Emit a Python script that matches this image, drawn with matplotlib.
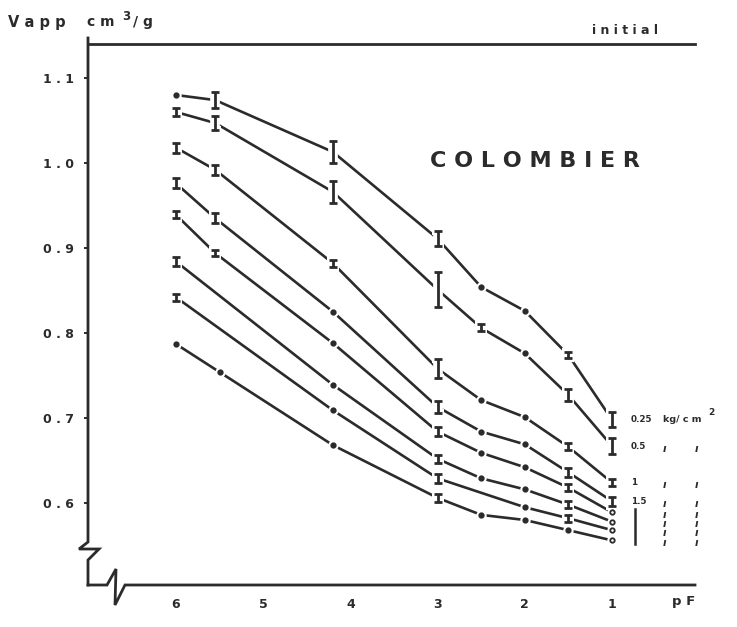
import matplotlib
matplotlib.use("Agg")
import matplotlib.pyplot as plt
from matplotlib.transforms import Affine2D, blended_transform_factory

# pF values and apparent volume Vapp (cm3/g) for each load, with error half-ranges
pf_025 = [6, 5.55, 4.2, 3, 2.5, 2, 1.5, 1]
v_025 = [1.080, 1.074, 1.013, 0.911, 0.854, 0.826, 0.774, 0.698]
e_025 = [0, 0.009, 0.0125, 0.009, 0, 0, 0.004, 0.009]

pf_05 = [6, 5.55, 4.2, 3, 2.5, 2, 1.5, 1]
v_05 = [1.060, 1.047, 0.966, 0.851, 0.806, 0.776, 0.727, 0.667]
e_05 = [0.005, 0.008, 0.013, 0.021, 0.004, 0, 0.007, 0.009]

pf_1 = [6, 5.55, 4.2, 3, 2.5, 2, 1.5, 1]
v_1 = [1.018, 0.992, 0.882, 0.758, 0.721, 0.701, 0.666, 0.624]
e_1 = [0.006, 0.006, 0.004, 0.011, 0, 0, 0.004, 0.004]

pf_15 = [6, 5.55, 4.2, 3, 2.5, 2, 1.5, 1]
v_15 = [0.976, 0.935, 0.825, 0.713, 0.684, 0.669, 0.636, 0.602]
e_15 = [0.006, 0.006, 0, 0.007, 0, 0, 0.005, 0.005]

pf_5 = [6, 5.55, 4.2, 3, 2.5, 2, 1.5, 1]
v_5 = [0.939, 0.894, 0.788, 0.684, 0.659, 0.642, 0.618, 0.589]
e_5 = [0.004, 0.004, 0, 0.005, 0, 0, 0.004, 0]

pf_6 = [6, 4.2, 3, 2.5, 2, 1.5, 1]
v_6 = [0.884, 0.739, 0.652, 0.629, 0.616, 0.598, 0.578]
e_6 = [0.005, 0, 0.005, 0, 0, 0.004, 0]

pf_7 = [6, 4.2, 3, 2, 1.5, 1]
v_7 = [0.842, 0.709, 0.629, 0.595, 0.582, 0.568]
e_7 = [0.004, 0, 0.005, 0, 0.004, 0]

pf_8 = [6, 5.5, 4.2, 3, 2.5, 2, 1.5, 1]
v_8 = [0.787, 0.754, 0.668, 0.606, 0.586, 0.580, 0.568, 0.556]
e_8 = [0, 0, 0, 0.005, 0, 0, 0, 0]

curves = [(pf_025, v_025, e_025), (pf_05, v_05, e_05), (pf_1, v_1, e_1),
          (pf_15, v_15, e_15), (pf_5, v_5, e_5), (pf_6, v_6, e_6),
          (pf_7, v_7, e_7), (pf_8, v_8, e_8)]
load_labels = ["0.25", "0.5", "1", "1.5"]

y_ticks = [0.6, 0.7, 0.8, 0.9, 1.0, 1.1]
y_ticklabels = ["0 . 6", "0 . 7", "0 . 8", "0 . 9", "1 . 0", "1 . 1"]
x_ticks = [6, 5, 4, 3, 2, 1]
x_ticklabels = ["6", "5", "4", "3", "2", "1"]

INK = "#2b2b2b"
FONT = "DejaVu Sans"

W, H = 737, 627
X0, X1, YT, YB = 88, 695, 44, 585

fig = plt.figure(figsize=(W / 100, H / 100), dpi=100)
fig.patch.set_facecolor("white")
ax = fig.add_axes([X0 / W, 1 - YB / H, (X1 - X0) / W, (YB - YT) / H])
ax.set_xlim(7.009, 0.048)
ax.set_ylim(0.5035, 1.14)
ax.set_facecolor("none")
for s in ax.spines.values():
    s.set_visible(False)

# pixel coordinates measured from the top-left corner of the figure
px = Affine2D().scale(1 / W, -1 / H).translate(0, 1) + fig.transFigure
px_y_data = blended_transform_factory(px, ax.transData)

# axis frame with broken corners
frame_kw = dict(color=INK, lw=2.0, transform=px, clip_on=False,
                solid_joinstyle="miter", zorder=5)
ax.plot([X0, X1], [YT, YT], **frame_kw)
ax.plot([X0, X0, 79, 99, X0, X0], [38, 542, 549, 549, 560, YB], **frame_kw)
ax.plot([X0, 107, 116, 115, 125, X1], [YB, YB, 569, 605, YB, YB], **frame_kw)

# ticks
ax.set_yticks(y_ticks)
ax.set_yticklabels(y_ticklabels, fontsize=9, fontweight="bold",
                   family=FONT, color=INK)
ax.tick_params(axis="y", direction="out", length=3, width=1.4,
               color=INK, pad=7)
ax.set_xticks(x_ticks)
ax.set_xticklabels(x_ticklabels, fontsize=9, fontweight="bold",
                   family=FONT, color=INK)
ax.tick_params(axis="x", length=0, pad=9)

# curves
for i, (pf, v, e) in enumerate(curves):
    ax.plot(pf, v, color=INK, lw=1.9, zorder=2, solid_capstyle="butt")
    for x, y, err in zip(pf, v, e):
        if err > 0:
            ax.errorbar([x], [y], yerr=[err], fmt="none", ecolor="white",
                        elinewidth=7, capsize=4.5, capthick=6, zorder=3)
            ax.errorbar([x], [y], yerr=[err], fmt="none", ecolor=INK,
                        elinewidth=2.0, capsize=2.6, capthick=2.0, zorder=4)
        else:
            ax.plot([x], [y], "o", ms=7.5, color="white", mec="none", zorder=3)
            open_end = (x == 1 and i >= 4)
            ax.plot([x], [y], "o", ms=3.2, color=INK,
                    mfc="white" if open_end else INK, mew=1.3, zorder=4)

# load labels at the end of each curve
lab_kw = dict(fontweight="bold", family=FONT, color=INK,
              va="center", transform=px_y_data, clip_on=False)
for lab, (pf, v, e) in zip(load_labels, curves):
    ax.text(631, v[-1], lab, ha="left", fontsize=6.3, **lab_kw)
ax.text(663, v_025[-1], "kg/ c m", ha="left", fontsize=6.8, **lab_kw)
ax.text(708, v_025[-1] + 0.008, "2", ha="left", fontsize=6.5, **lab_kw)
for pf, v, e in curves[1:]:
    ax.text(664, v[-1] - 0.003, "ı", ha="center", fontsize=7.5,
            style="italic", **lab_kw)
    ax.text(696, v[-1] - 0.003, "ı", ha="center", fontsize=7.5,
            style="italic", **lab_kw)
# ditto bar for the remaining loads
ax.plot([635, 635], [v_5[-1] + 0.004, v_8[-1] - 0.004], color=INK, lw=1.8,
        transform=px_y_data, clip_on=False)

# titles and axis names
txt_kw = dict(fontweight="bold", family=FONT, color=INK, transform=px)
ax.text(8, 22, "V a p p", fontsize=10.5, ha="left", va="center", **txt_kw)
ax.text(87, 22, "c m", fontsize=10, ha="left", va="center", **txt_kw)
ax.text(122, 16, "3", fontsize=8.5, ha="left", va="center", **txt_kw)
ax.text(133, 22, "/ g", fontsize=10, ha="left", va="center", **txt_kw)
ax.text(592, 31, "i n i t i a l", fontsize=9, ha="left", va="center", **txt_kw)
ax.text(430, 161, "C O L O M B I E R", fontsize=16, ha="left", va="center",
        **txt_kw)
ax.text(672, 601, "p F", fontsize=9.5, ha="left", va="center", **txt_kw)

fig.savefig("out.png", dpi=100, facecolor="white")
